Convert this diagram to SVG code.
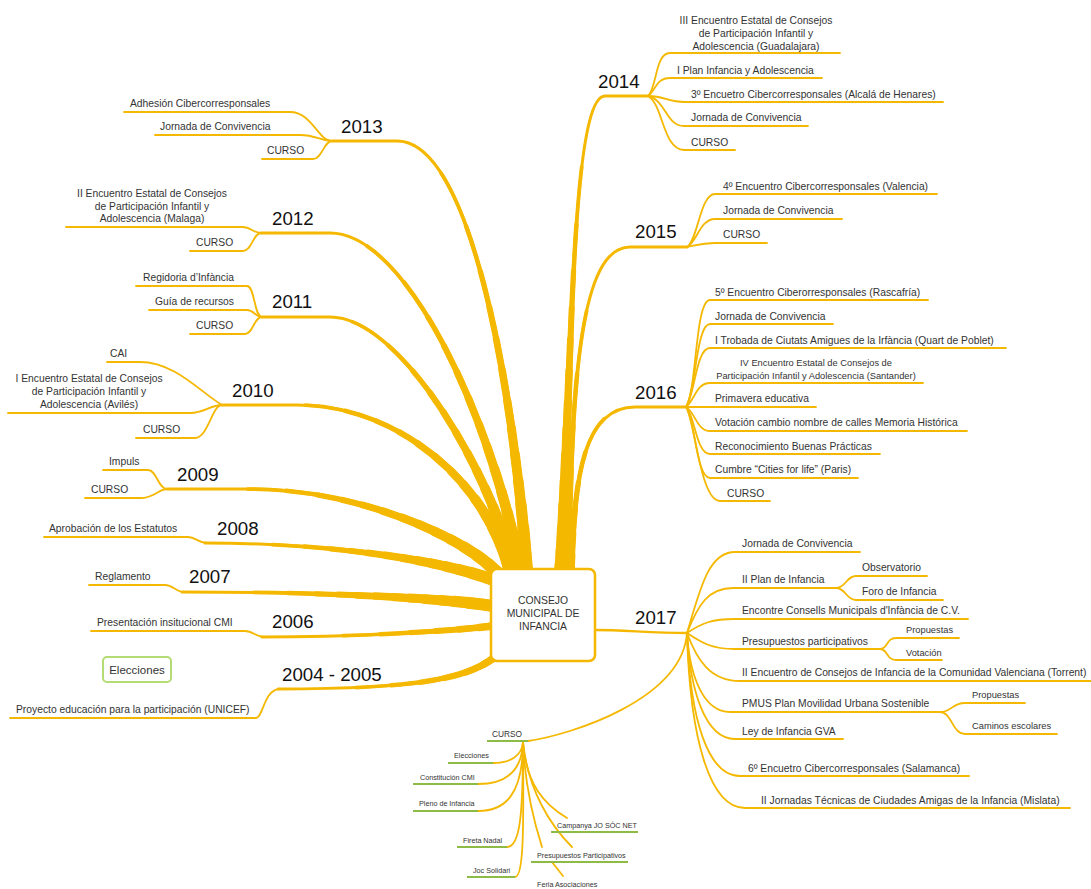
<svg xmlns="http://www.w3.org/2000/svg" xmlns:xlink="http://www.w3.org/1999/xlink" width="1091" height="889" viewBox="0 0 1091 889">
<style>
.br{fill:none;stroke:#F5B800;stroke-linecap:round;stroke-linejoin:round}
.s{fill:none;stroke:#F5B800;stroke-width:1.8;stroke-linecap:round;stroke-linejoin:round}
.g{fill:none;stroke:#8DBB45;stroke-width:1.8}
.t{font-family:"Liberation Sans",Arial,sans-serif;font-size:10.3px;fill:#333}
.y{font-family:"Liberation Sans",Arial,sans-serif;font-size:18.7px;fill:#111}
.sm{font-size:9.3px}
.xs{font-size:7.2px}
.cu{font-size:8.3px}
.c{text-anchor:middle}
.w1{stroke-width:3}
.a1{stroke-width:3.75;stroke-dasharray:77 300}
.a2{stroke-width:4.5;stroke-dasharray:66 300}
.a3{stroke-width:5.25;stroke-dasharray:57 300}
.a4{stroke-width:6;stroke-dasharray:50 300}
.a5{stroke-width:6.75;stroke-dasharray:44 300}
.a6{stroke-width:7.5;stroke-dasharray:38 300}
.a7{stroke-width:8.25;stroke-dasharray:32 300}
.a8{stroke-width:9;stroke-dasharray:27 300}
.a9{stroke-width:9.75;stroke-dasharray:22 300}
.a10{stroke-width:10.5;stroke-dasharray:17 300}
.a11{stroke-width:11.25;stroke-dasharray:12.5 300}
.a12{stroke-width:12;stroke-dasharray:8 300}
.a13{stroke-width:12.75;stroke-dasharray:4 300}
.a14{stroke-width:13.5;stroke-dasharray:1 300}
.b1{stroke-width:3.75;stroke-dasharray:65 300}
.b2{stroke-width:4.5;stroke-dasharray:49 300}
.b3{stroke-width:5.25;stroke-dasharray:36 300}
.b4{stroke-width:6;stroke-dasharray:25 300}
.b5{stroke-width:6.75;stroke-dasharray:15 300}
.b6{stroke-width:7.5;stroke-dasharray:6 300}
.b7{stroke-width:8;stroke-dasharray:1 300}
</style>
<defs>
<path id="p2013" pathLength="100" d="M527,570 C512,380 470,141 397,141 L332,141"/>
<path id="p2012" pathLength="100" d="M520,570 C495,430 410,233 330,233 L261,233"/>
<path id="p2011" pathLength="100" d="M514,570 C490,470 400,317 330,317 L262,317"/>
<path id="p2010" pathLength="100" d="M509,570 C488,485 400,405 297,405 L222,405"/>
<path id="p2009" pathLength="100" d="M498,574 C470,540 360,489 250,489 L167,489"/>
<path id="p2008" pathLength="100" d="M493,580 C440,560 330,543 205,543"/>
<path id="p2007" pathLength="100" d="M493,606 C440,598 330,592 182,592"/>
<path id="p2006" pathLength="100" d="M493,626 C440,632 350,637 262,637"/>
<path id="p2004" pathLength="100" d="M495,657 C470,676 430,689 278,689"/>
<path id="p2014" pathLength="100" d="M561,570 C572,350 572,96 605,96 L648,96"/>
<path id="p2015" pathLength="100" d="M568,570 C572,380 580,247 630,247 L687,247"/>
<path id="p2016" pathLength="100" d="M571,570 C575,480 582,407 635,407 L686,407"/>
</defs>
<rect width="1091" height="889" fill="#fff"/>
<g id="connectors">
<g class="br">
<use xlink:href="#p2013" class="w1"/><use xlink:href="#p2013" class="a1"/><use xlink:href="#p2013" class="a2"/><use xlink:href="#p2013" class="a3"/><use xlink:href="#p2013" class="a4"/><use xlink:href="#p2013" class="a5"/><use xlink:href="#p2013" class="a6"/><use xlink:href="#p2013" class="a7"/><use xlink:href="#p2013" class="a8"/><use xlink:href="#p2013" class="a9"/><use xlink:href="#p2013" class="a10"/><use xlink:href="#p2013" class="a11"/><use xlink:href="#p2013" class="a12"/>
<use xlink:href="#p2012" class="w1"/><use xlink:href="#p2012" class="a1"/><use xlink:href="#p2012" class="a2"/><use xlink:href="#p2012" class="a3"/><use xlink:href="#p2012" class="a4"/><use xlink:href="#p2012" class="a5"/><use xlink:href="#p2012" class="a6"/><use xlink:href="#p2012" class="a7"/><use xlink:href="#p2012" class="a8"/><use xlink:href="#p2012" class="a9"/><use xlink:href="#p2012" class="a10"/><use xlink:href="#p2012" class="a11"/><use xlink:href="#p2012" class="a12"/>
<use xlink:href="#p2011" class="w1"/><use xlink:href="#p2011" class="a1"/><use xlink:href="#p2011" class="a2"/><use xlink:href="#p2011" class="a3"/><use xlink:href="#p2011" class="a4"/><use xlink:href="#p2011" class="a5"/><use xlink:href="#p2011" class="a6"/><use xlink:href="#p2011" class="a7"/><use xlink:href="#p2011" class="a8"/><use xlink:href="#p2011" class="a9"/><use xlink:href="#p2011" class="a10"/><use xlink:href="#p2011" class="a11"/>
<use xlink:href="#p2010" class="w1"/><use xlink:href="#p2010" class="a1"/><use xlink:href="#p2010" class="a2"/><use xlink:href="#p2010" class="a3"/><use xlink:href="#p2010" class="a4"/><use xlink:href="#p2010" class="a5"/><use xlink:href="#p2010" class="a6"/><use xlink:href="#p2010" class="a7"/><use xlink:href="#p2010" class="a8"/><use xlink:href="#p2010" class="a9"/><use xlink:href="#p2010" class="a10"/><use xlink:href="#p2010" class="a11"/>
<use xlink:href="#p2009" class="w1"/><use xlink:href="#p2009" class="a1"/><use xlink:href="#p2009" class="a2"/><use xlink:href="#p2009" class="a3"/><use xlink:href="#p2009" class="a4"/><use xlink:href="#p2009" class="a5"/><use xlink:href="#p2009" class="a6"/><use xlink:href="#p2009" class="a7"/><use xlink:href="#p2009" class="a8"/><use xlink:href="#p2009" class="a9"/><use xlink:href="#p2009" class="a10"/><use xlink:href="#p2009" class="a11"/><use xlink:href="#p2009" class="a12"/><use xlink:href="#p2009" class="a13"/><use xlink:href="#p2009" class="a14"/>
<use xlink:href="#p2008" class="w1"/><use xlink:href="#p2008" class="a1"/><use xlink:href="#p2008" class="a2"/><use xlink:href="#p2008" class="a3"/><use xlink:href="#p2008" class="a4"/><use xlink:href="#p2008" class="a5"/><use xlink:href="#p2008" class="a6"/><use xlink:href="#p2008" class="a7"/><use xlink:href="#p2008" class="a8"/><use xlink:href="#p2008" class="a9"/><use xlink:href="#p2008" class="a10"/><use xlink:href="#p2008" class="a11"/><use xlink:href="#p2008" class="a12"/>
<use xlink:href="#p2007" class="w1"/><use xlink:href="#p2007" class="a1"/><use xlink:href="#p2007" class="a2"/><use xlink:href="#p2007" class="a3"/><use xlink:href="#p2007" class="a4"/><use xlink:href="#p2007" class="a5"/><use xlink:href="#p2007" class="a6"/><use xlink:href="#p2007" class="a7"/><use xlink:href="#p2007" class="a8"/><use xlink:href="#p2007" class="a9"/><use xlink:href="#p2007" class="a10"/><use xlink:href="#p2007" class="a11"/><use xlink:href="#p2007" class="a12"/>
<use xlink:href="#p2006" class="w1"/><use xlink:href="#p2006" class="b1"/><use xlink:href="#p2006" class="b2"/><use xlink:href="#p2006" class="b3"/><use xlink:href="#p2006" class="b4"/><use xlink:href="#p2006" class="b5"/><use xlink:href="#p2006" class="b6"/><use xlink:href="#p2006" class="b7"/>
<use xlink:href="#p2004" class="w1"/><use xlink:href="#p2004" class="b1"/><use xlink:href="#p2004" class="b2"/><use xlink:href="#p2004" class="b3"/><use xlink:href="#p2004" class="b4"/><use xlink:href="#p2004" class="b5"/><use xlink:href="#p2004" class="b6"/><use xlink:href="#p2004" class="b7"/>
<use xlink:href="#p2014" class="w1"/><use xlink:href="#p2014" class="a1"/><use xlink:href="#p2014" class="a2"/><use xlink:href="#p2014" class="a3"/><use xlink:href="#p2014" class="a4"/><use xlink:href="#p2014" class="a5"/><use xlink:href="#p2014" class="a6"/><use xlink:href="#p2014" class="a7"/><use xlink:href="#p2014" class="a8"/><use xlink:href="#p2014" class="a9"/><use xlink:href="#p2014" class="a10"/><use xlink:href="#p2014" class="a11"/><use xlink:href="#p2014" class="a12"/><use xlink:href="#p2014" class="a13"/><use xlink:href="#p2014" class="a14"/>
<use xlink:href="#p2015" class="w1"/><use xlink:href="#p2015" class="b1"/><use xlink:href="#p2015" class="b2"/><use xlink:href="#p2015" class="b3"/><use xlink:href="#p2015" class="b4"/><use xlink:href="#p2015" class="b5"/><use xlink:href="#p2015" class="b6"/><use xlink:href="#p2015" class="b7"/>
<use xlink:href="#p2016" class="w1"/><use xlink:href="#p2016" class="b1"/><use xlink:href="#p2016" class="b2"/><use xlink:href="#p2016" class="b3"/><use xlink:href="#p2016" class="b4"/><use xlink:href="#p2016" class="b5"/><use xlink:href="#p2016" class="b6"/><use xlink:href="#p2016" class="b7"/>
</g>
<g class="s">
<path d="M124,112 L290,112 C312,112 318,141 332,141"/>
<path d="M155,135 L300,135 C315,135 322,141 332,141"/>
<path d="M262,159 L313,159 C322,159 324,141 332,141"/>
<path d="M66,227 L243,227 C251,227 253,233 261,233"/>
<path d="M190,251 L243,251 C252,251 253,233 261,233"/>
<path d="M136,286 L247,286 C255,286 254,317 262,317"/>
<path d="M149,310 L247,310 C254,310 255,317 262,317"/>
<path d="M190,334 L245,334 C253,334 254,317 262,317"/>
<path d="M107,362 L140,362 C175,362 200,392 222,405"/>
<path d="M8,413 L190,413 C205,413 210,405 222,405"/>
<path d="M136,438 L195,438 C208,438 212,405 222,405"/>
<path d="M103,470 L148,470 C157,470 158,489 167,489"/>
<path d="M85,498 L140,498 C155,498 158,489 167,489"/>
<path d="M44,537 L188,537 C196,537 198,543 207,543"/>
<path d="M89,585 L165,585 C173,585 176,592 184,592"/>
<path d="M91,631 L245,631 C253,631 256,637 264,637"/>
<path d="M10,718 L256,718 C263,718 264,689 280,689"/>
<path d="M648,96 C657,88 655,53 670,53 L840,53"/>
<path d="M648,96 C656,90 656,78 670,78 L822,78"/>
<path d="M648,96 C665,96 668,102 684,102 L943,102"/>
<path d="M648,96 C666,100 666,126 684,126 L808,126"/>
<path d="M648,96 C663,104 663,150 684,150 L735,150"/>
<path d="M687,247 C698,240 700,194 715,194 L937,194"/>
<path d="M687,247 C697,242 700,219 715,219 L842,219"/>
<path d="M687,247 C697,245 702,243 715,243 L767,243"/>
<path d="M686,407 C697,390 695,300 710,300 L928,300"/>
<path d="M686,407 C696,392 696,324 710,324 L833,324"/>
<path d="M686,407 C695,395 696,348 710,348 L1006,348"/>
<path d="M686,407 C695,400 696,383 710,383 L923,383"/>
<path d="M686,407 L816,407"/>
<path d="M686,407 C695,412 697,431 710,431 L967,431"/>
<path d="M686,407 C695,415 696,454 710,454 L880,454"/>
<path d="M686,407 C695,418 696,478 710,478 L858,478"/>
<path d="M686,407 C695,420 700,501 720,501 L770,501"/>
<path d="M595,630 C625,630 650,633 687,633" style="stroke-width:2.4"/>
<path d="M687,633 C700,590 708,552 735,552 L860,552"/>
<path d="M687,633 C698,605 708,588 733,588 L836,588"/>
<path d="M836,588 C846,588 846,576 856,576 L927,576"/>
<path d="M836,588 C846,588 846,600 856,600 L943,600"/>
<path d="M687,633 C702,623 712,619 735,619 L968,619"/>
<path d="M687,633 C702,643 712,649 735,649 L880,649"/>
<path d="M880,649 C888,649 886,638 896,638 L959,638"/>
<path d="M880,649 C888,649 886,660 896,660 L942,660"/>
<path d="M687,633 C697,660 710,681 740,681 L1091,681"/>
<path d="M687,633 C690,680 705,712 730,712 L940,712"/>
<path d="M940,712 C952,712 952,703 965,703 L1025,703"/>
<path d="M940,712 C952,712 952,734 965,734 L1057,734"/>
<path d="M687,633 C690,690 705,739 735,739 L843,739"/>
<path d="M687,633 C690,720 708,776 740,776 L969,776"/>
<path d="M687,633 C690,740 710,808 745,808 L1070,808"/>
<path d="M687,633 C682,700 570,735 528,741"/>
<path d="M523,742 C522,756 510,763 493,763"/>
<path d="M523,742 C522,772 505,784 478,784"/>
<path d="M523,742 C523,795 505,811 478,811"/>
<path d="M523,742 C523,815 520,847 507,847"/>
<path d="M523,742 C524,840 523,877 515,877"/>
<path d="M523,742 C526,785 545,805 567,818"/>
<path d="M523,742 C525,790 535,825 542,847"/>
<path d="M523,742 C528,790 550,825 572,847"/>
<path d="M552,862 L563,876"/>
</g>
<g class="g">
<path d="M487,741 H528"/>
<path d="M448,763 H493"/>
<path d="M413,784 H478"/>
<path d="M413,811 H478"/>
<path d="M457,847 H507"/>
<path d="M467,877 H515"/>
<path d="M551,832 H638"/>
<path d="M531,862 H628"/>
</g>
</g>
<g id="center">
<rect x="491" y="569" width="104" height="92" rx="6" fill="#fff" stroke="#F5B800" stroke-width="2.5"/>
<text class="t c" x="543" y="604" style="font-size:10.4px">CONSEJO</text>
<text class="t c" x="543" y="617" style="font-size:10.4px">MUNICIPAL DE</text>
<text class="t c" x="543" y="630" style="font-size:10.4px">INFANCIA</text>
</g>
<g id="n2013">
<text class="y" x="341" y="133">2013</text>
<g id="n2013a"><text class="t" x="130" y="107">Adhesión Cibercorresponsales</text></g>
<g id="n2013b"><text class="t" x="160" y="130">Jornada de Convivencia</text></g>
<g id="n2013c"><text class="t" x="267" y="154">CURSO</text></g>
</g>
<g id="n2012">
<text class="y" x="272" y="225">2012</text>
<g id="n2012a"><text class="t c" x="152" y="197">II Encuentro Estatal de Consejos</text><text class="t c" x="152" y="210">de Participación Infantil y</text><text class="t c" x="152" y="222">Adolescencia (Malaga)</text></g>
<g id="n2012b"><text class="t" x="196" y="246">CURSO</text></g>
</g>
<g id="n2011">
<text class="y" x="272" y="308">2011</text>
<g id="n2011a"><text class="t" x="143" y="281">Regidoria d’Infància</text></g>
<g id="n2011b"><text class="t" x="155" y="305">Guía de recursos</text></g>
<g id="n2011c"><text class="t" x="196" y="329">CURSO</text></g>
</g>
<g id="n2010">
<text class="y" x="232" y="397">2010</text>
<g id="n2010a"><text class="t" x="110" y="357">CAI</text></g>
<g id="n2010b"><text class="t c" x="89" y="382">I Encuentro Estatal de Consejos</text><text class="t c" x="89" y="395">de Participación Infantil y</text><text class="t c" x="89" y="408">Adolescencia (Avilés)</text></g>
<g id="n2010c"><text class="t" x="143" y="433">CURSO</text></g>
</g>
<g id="n2009">
<text class="y" x="177" y="481">2009</text>
<g id="n2009a"><text class="t" x="109" y="465">Impuls</text></g>
<g id="n2009b"><text class="t" x="91" y="493">CURSO</text></g>
</g>
<g id="n2008">
<text class="y" x="217" y="535">2008</text>
<g id="n2008a"><text class="t" x="49" y="532">Aprobación de los Estatutos</text></g>
</g>
<g id="n2007">
<text class="y" x="189" y="583">2007</text>
<g id="n2007a"><text class="t" x="95" y="580">Reglamento</text></g>
</g>
<g id="n2006">
<text class="y" x="272" y="628">2006</text>
<g id="n2006a"><text class="t" x="97" y="626">Presentación insitucional CMI</text></g>
</g>
<g id="elecciones">
<rect x="103" y="657" width="68" height="25" rx="4" fill="#fff" stroke="#B5DB74" stroke-width="2"/>
<text class="t c" x="137" y="674" style="font-size:11.5px">Elecciones</text>
</g>
<g id="n2004">
<text class="y" x="282" y="681">2004 - 2005</text>
<g id="n2004a"><text class="t" x="16" y="713">Proyecto educación para la participación (UNICEF)</text></g>
</g>
<g id="n2014">
<text class="y" x="598" y="88">2014</text>
<g id="n2014a"><text class="t c" x="756" y="24">III Encuentro Estatal de Consejos</text><text class="t c" x="756" y="37">de Participación Infantil y</text><text class="t c" x="756" y="50">Adolescencia (Guadalajara)</text></g>
<g id="n2014b"><text class="t" x="677" y="74">I Plan Infancia y Adolescencia</text></g>
<g id="n2014c"><text class="t" x="691" y="98">3º Encuetro Cibercorresponsales (Alcalá de Henares)</text></g>
<g id="n2014d"><text class="t" x="691" y="121">Jornada de Convivencia</text></g>
<g id="n2014e"><text class="t" x="691" y="146">CURSO</text></g>
</g>
<g id="n2015">
<text class="y" x="635" y="238">2015</text>
<g id="n2015a"><text class="t" x="723" y="190">4º Encuentro Cibercorresponsales (Valencia)</text></g>
<g id="n2015b"><text class="t" x="723" y="214">Jornada de Convivencia</text></g>
<g id="n2015c"><text class="t" x="723" y="238">CURSO</text></g>
</g>
<g id="n2016">
<text class="y" x="635" y="399">2016</text>
<g id="n2016a"><text class="t" x="715" y="296">5º Encuentro Ciberorresponsales (Rascafría)</text></g>
<g id="n2016b"><text class="t" x="715" y="320">Jornada de Convivencia</text></g>
<g id="n2016c"><text class="t" x="715" y="344">I Trobada de Ciutats Amigues de la Irfància (Quart de Poblet)</text></g>
<g id="n2016d"><text class="t sm c" x="816" y="366">IV Encuentro Estatal de Consejos de</text><text class="t sm c" x="816" y="379">Participación Infantil y Adolescencia (Santander)</text></g>
<g id="n2016e"><text class="t" x="715" y="402">Primavera educativa</text></g>
<g id="n2016f"><text class="t" x="715" y="426">Votación cambio nombre de calles Memoria Histórica</text></g>
<g id="n2016g"><text class="t" x="715" y="450">Reconocimiento Buenas Prácticas</text></g>
<g id="n2016h"><text class="t" x="715" y="473">Cumbre “Cities for life” (Paris)</text></g>
<g id="n2016i"><text class="t" x="727" y="497">CURSO</text></g>
</g>
<g id="n2017">
<text class="y" x="635" y="624">2017</text>
<g id="n2017a"><text class="t" x="742" y="547">Jornada de Convivencia</text></g>
<g id="n2017b"><text class="t" x="742" y="583">II Plan de Infancia</text></g>
<g id="n2017b1"><text class="t" x="862" y="571">Observatorio</text></g>
<g id="n2017b2"><text class="t" x="862" y="595">Foro de Infancia</text></g>
<g id="n2017c"><text class="t" x="742" y="614">Encontre Consells Municipals d'Infància de C.V.</text></g>
<g id="n2017d"><text class="t" x="742" y="645">Presupuestos participativos</text></g>
<g id="n2017d1"><text class="t sm" x="906" y="633">Propuestas</text></g>
<g id="n2017d2"><text class="t sm" x="906" y="656">Votación</text></g>
<g id="n2017e"><text class="t" x="742" y="676">II Encuentro de Consejos de Infancia de la Comunidad Valenciana (Torrent)</text></g>
<g id="n2017f"><text class="t" x="742" y="707">PMUS Plan Movilidad Urbana Sostenible</text></g>
<g id="n2017f1"><text class="t sm" x="972" y="698">Propuestas</text></g>
<g id="n2017f2"><text class="t sm" x="972" y="729">Caminos escolares</text></g>
<g id="n2017g"><text class="t" x="742" y="735">Ley de Infancia GVA</text></g>
<g id="n2017h"><text class="t" x="748" y="772">6º Encuetro Cibercorresponsales (Salamanca)</text></g>
<g id="n2017i"><text class="t" x="761" y="804">II Jornadas Técnicas de Ciudades Amigas de la Infancia (Mislata)</text></g>
</g>
<g id="curso">
<text class="t cu" x="492" y="737">CURSO</text>
<g id="c1"><text class="t xs" x="454" y="758">Elecciones</text></g>
<g id="c2"><text class="t xs" x="420" y="780">Constitución CMI</text></g>
<g id="c3"><text class="t xs" x="419" y="806">Pleno de Infancia</text></g>
<g id="c4"><text class="t xs" x="463" y="843">Fireta Nadal</text></g>
<g id="c5"><text class="t xs" x="473" y="873">Joc Solidari</text></g>
<g id="c6"><text class="t xs" x="557" y="828">Campanya JO SÓC NET</text></g>
<g id="c7"><text class="t xs" x="537" y="858">Presupuestos Participativos</text></g>
<g id="c8"><text class="t xs" x="537" y="887">Feria Asociaciones</text></g>
</g>
</svg>
